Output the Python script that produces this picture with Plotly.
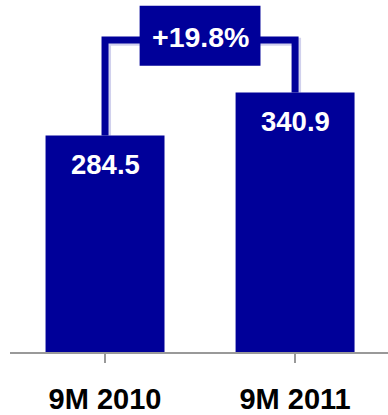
import plotly.graph_objects as go

# Revenue for the first nine months of each year
periods = ["9M 2010", "9M 2011"]
values = [284.5, 340.9]

NAVY = "#000099"
FONT = "Liberation Sans, Arial, sans-serif"

growth = (values[1] / values[0] - 1) * 100
bracket_y = max(values) * 1.203

fig = go.Figure()
fig.add_trace(go.Bar(
    x=[0, 1], y=values, width=0.626,
    marker=dict(color=NAVY, line=dict(width=0)),
    hoverinfo="skip",
))

# Value labels inside the top of each bar
for i, v in enumerate(values):
    fig.add_annotation(
        x=i, y=v, text=f"<b>{v:.1f}</b>", showarrow=False,
        yanchor="middle", yshift=-29,
        font=dict(family=FONT, size=27.5, color="white"),
    )

# Growth bracket connecting the two bars (soft shadow first, then the line)
sx, sy = 2 / 190, 2.6
fig.add_shape(
    type="path",
    path=(f"M {0 + sx},{values[0]} L {0 + sx},{bracket_y - sy} "
          f"L {1 + sx},{bracket_y - sy} L {1 + sx},{values[1]}"),
    line=dict(color="rgba(0,0,153,0.18)", width=8), layer="below",
)
fig.add_shape(
    type="path",
    path=(f"M 0,{values[0]} L 0,{bracket_y} L 1,{bracket_y} L 1,{values[1]}"),
    line=dict(color=NAVY, width=7), layer="below",
)

# Growth badge
fig.add_shape(
    type="rect", x0=0.5 - 0.318, x1=0.5 + 0.318,
    y0=bracket_y - 34, y1=bracket_y + 45,
    fillcolor=NAVY, line=dict(width=0), layer="above",
)
fig.add_annotation(
    x=0.5, y=bracket_y + 4, text=f"<b>+{growth:.1f}%</b>", showarrow=False,
    yanchor="middle",
    font=dict(family=FONT, size=28.5, color="white"),
)

fig.update_layout(
    width=388, height=415,
    margin=dict(l=10, r=0, t=0, b=57),
    paper_bgcolor="white", plot_bgcolor="white",
    showlegend=False,
    xaxis=dict(
        range=[-0.5, 1.489], tickmode="array", tickvals=[0, 1],
        ticktext=[f"<b>{p}</b>" for p in periods],
        tickson="boundaries", ticks="outside", ticklen=9, tickwidth=2,
        tickcolor="#999999", showline=True, linecolor="#999999", linewidth=2,
        showgrid=False, zeroline=False,
        tickfont=dict(family=FONT, size=29, color="black"),
        ticklabelstandoff=11,
    ),
    yaxis=dict(range=[0, 462.5], visible=False, showgrid=False, zeroline=False),
)

fig.write_html("out.html")
